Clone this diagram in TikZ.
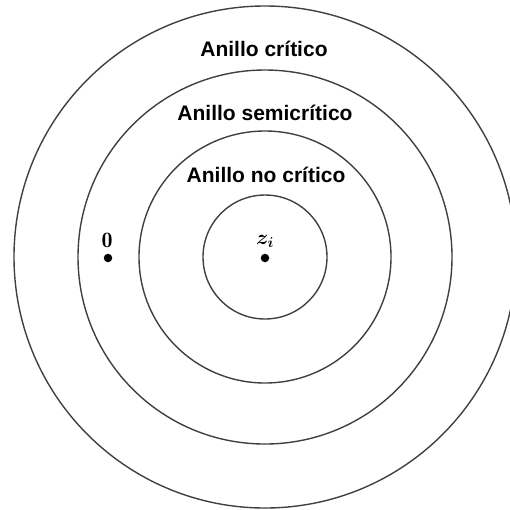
\documentclass[tikz,border=0pt]{standalone}
\usepackage{amsmath}
\usepackage{fontspec}
\newfontfamily\labfont{Liberation Sans}
\begin{document}
\begin{tikzpicture}[x=1pt,y=-1pt,
  ring/.style={draw=black!75, line width=1.4pt, circle, inner sep=0pt, minimum size=#1},
  ringlabel/.style={font=\labfont\bfseries\fontsize{21}{24}\selectfont, anchor=base, inner sep=0pt},
  mathlabel/.style={font=\fontsize{22}{26}\selectfont, anchor=base, inner sep=0pt},
  pt/.style={fill=black, circle, inner sep=0pt, minimum size=8.5pt}]
\useasboundingbox (0,0) rectangle (510,509);
\coordinate (c) at (265,257);
\node[ring=502pt] (r1) at (c) {};
\node[ring=374pt] (r2) at (c) {};
\node[ring=252pt] (r3) at (c) {};
\node[ring=124pt] (r4) at (c) {};
\node[ringlabel] (l1) at (264,56) {Anillo crítico};
\node[ringlabel] (l2) at (265,120) {Anillo semicrítico};
\node[ringlabel] (l3) at (266,182) {Anillo no crítico};
\node[pt] (zi) at (265,258) {};
\node[mathlabel] (zil) at (265,244) {$\boldsymbol{z_i}$};
\node[pt] (o) at (108,258) {};
\node[mathlabel] (ol) at (107,247) {$\mathbf{0}$};
\end{tikzpicture}
\end{document}
